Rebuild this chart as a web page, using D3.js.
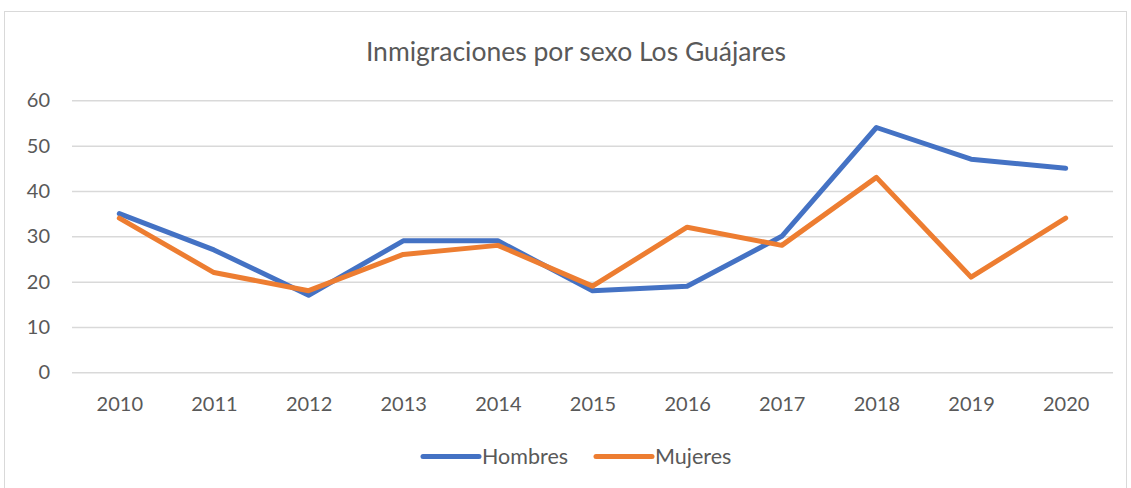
<!DOCTYPE html>
<html><head><meta charset="utf-8">
<script src="https://cdn.jsdelivr.net/npm/d3@7"></script>
<style>body{margin:0;background:#fff}svg{display:block;font-family:Lato,"Open Sans",sans-serif}</style>
</head><body><svg id="c" width="1131" height="488"></svg>
<script>
const years = ["2010","2011","2012","2013","2014","2015","2016","2017","2018","2019","2020"];
const hombres = [35,27,17,29,29,18,19,30,54,47,45];
const mujeres = [34,22,18,26,28,19,32,28,43,21,34];
const yTicks = [0,10,20,30,40,50,60];
const seriesNames = ["Hombres","Mujeres"];
const colors = ["#4472C4","#ED7D31"];
const title = "Inmigraciones por sexo Los Guájares";

(function(){
const svg = d3.select("#c");
svg.append("rect").attr("x",4.5).attr("y",11.5).attr("width",1122).attr("height",490)
  .attr("fill","#fff").attr("stroke","#d9d9d9").attr("stroke-width",1);

const pl=72, pr=1113, pt=100.3, pb=372.3;
const x = d3.scalePoint().domain(years).range([pl,pr]).padding(0.5);
const y = d3.scaleLinear().domain([0,60]).range([pb,pt]);

svg.append("text").attr("x",576).attr("y",61).attr("text-anchor","middle")
  .attr("font-size",26.5).attr("fill","#595959").text(title);

const yAxis = svg.append("g").attr("transform",`translate(${pl},0)`)
  .call(d3.axisLeft(y).tickValues(yTicks).tickSize(-(pr-pl)).tickFormat(d3.format("d")));
yAxis.select(".domain").remove();
yAxis.selectAll(".tick line").attr("stroke","#d9d9d9").attr("stroke-width",1.5);
yAxis.selectAll(".tick text").attr("x",-22).attr("font-size",20).attr("fill","#595959")
  .attr("font-family",'Lato,"Open Sans",sans-serif');

const xAxis = svg.append("g").attr("transform",`translate(0,${pb})`)
  .call(d3.axisBottom(x).tickSize(0));
xAxis.select(".domain").remove();
xAxis.selectAll(".tick text").attr("y",25).attr("font-size",20).attr("fill","#595959")
  .attr("font-family",'Lato,"Open Sans",sans-serif');

const line = d3.line().x((d,i)=>x(years[i])).y(d=>y(d));
[hombres,mujeres].forEach((s,i)=>{
  svg.append("path").datum(s).attr("d",line).attr("fill","none")
    .attr("stroke",colors[i]).attr("stroke-width",5).attr("stroke-linejoin","round").attr("stroke-linecap","round");
});

const lg = [{x:423},{x:596}];
seriesNames.forEach((n,i)=>{
  const g = svg.append("g");
  g.append("line").attr("x1",lg[i].x).attr("x2",lg[i].x+56).attr("y1",456.5).attr("y2",456.5)
    .attr("stroke",colors[i]).attr("stroke-width",5).attr("stroke-linecap","round");
  g.append("text").attr("x",lg[i].x+59).attr("y",464).attr("font-size",21.5).attr("fill","#595959").text(n);
});
})();
</script></body></html>
